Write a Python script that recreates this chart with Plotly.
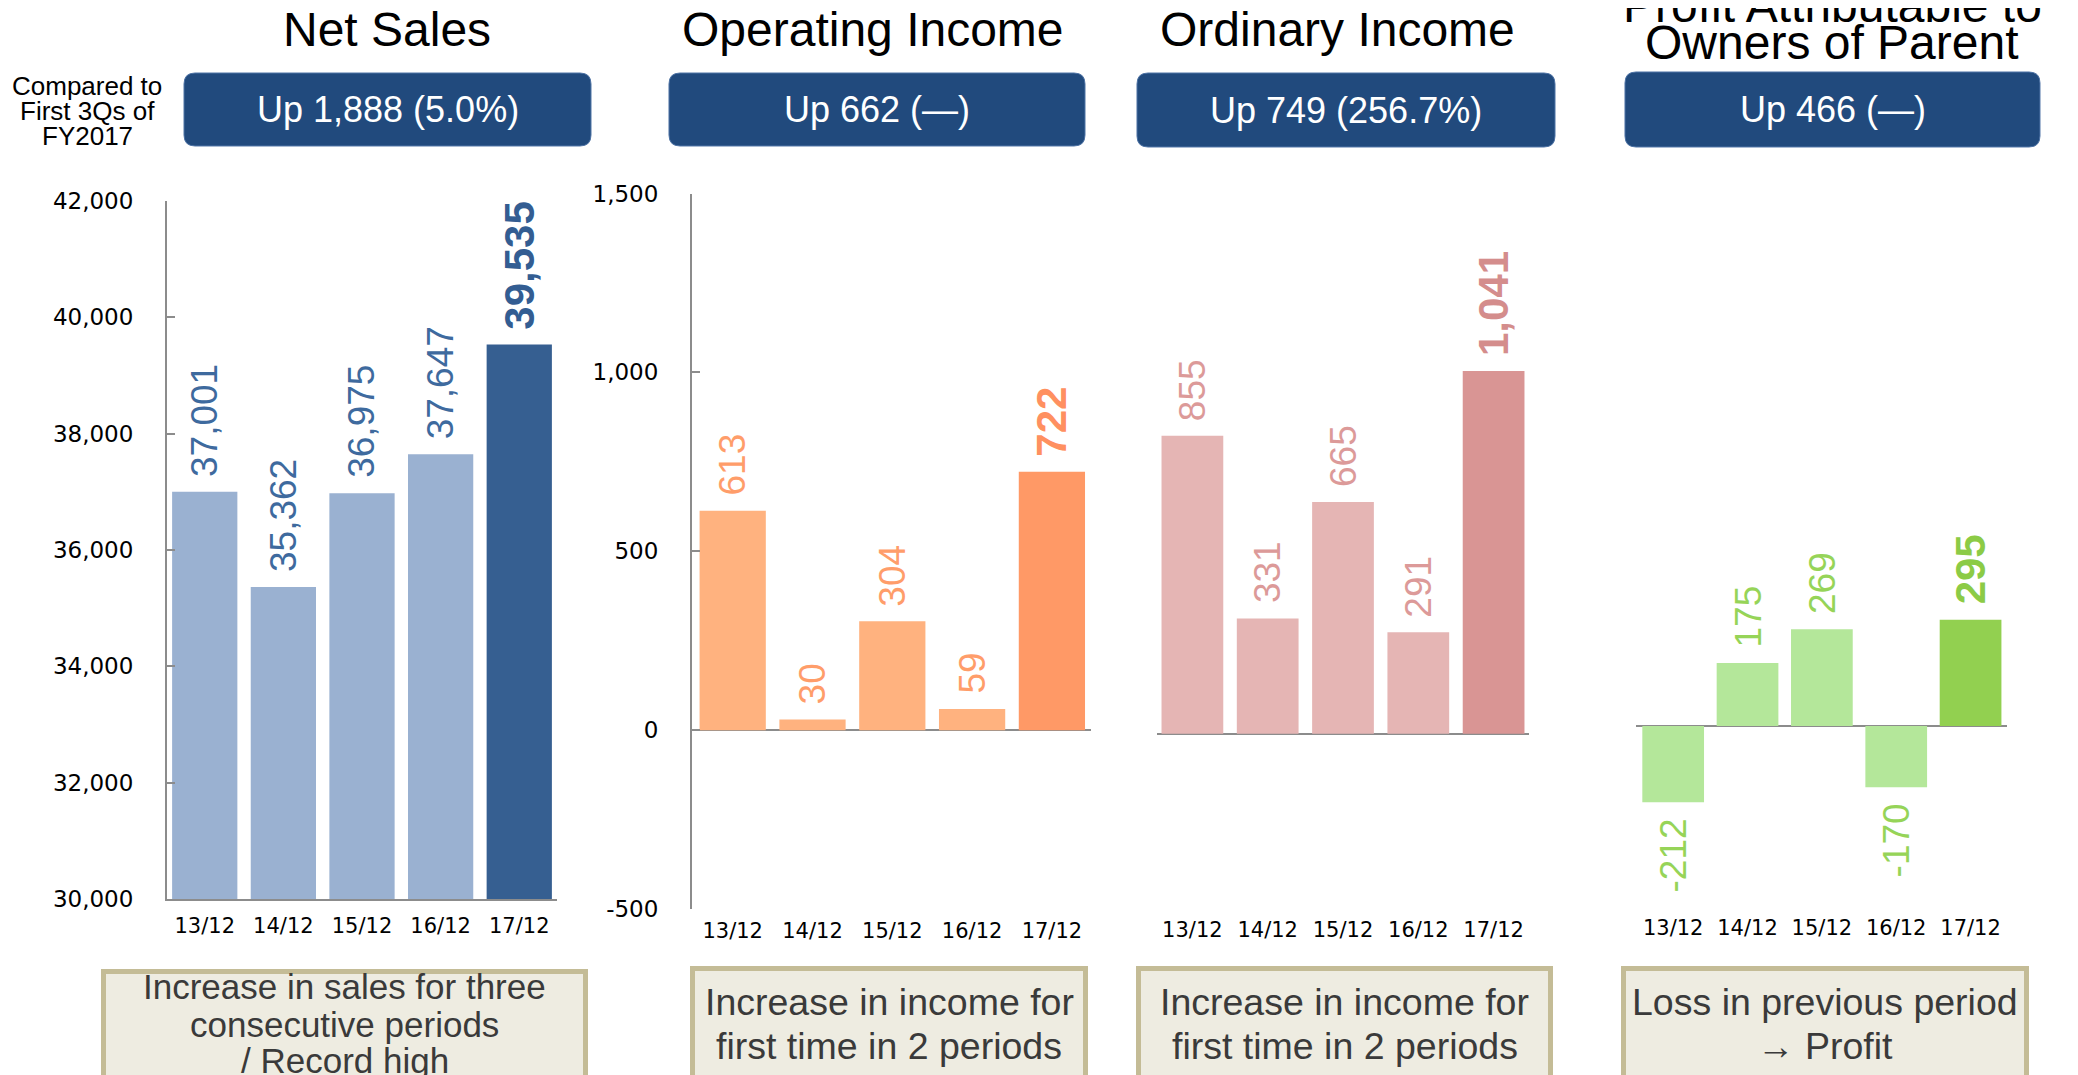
import plotly.graph_objects as go

W, H = 2078, 1075

# ---------------- data ----------------
periods = ["13/12", "14/12", "15/12", "16/12", "17/12"]
net_sales = [37001, 35362, 36975, 37647, 39535]
operating_income = [613, 30, 304, 59, 722]
ordinary_income = [855, 331, 665, 291, 1041]
profit_owners = [-212, 175, 269, -170, 295]

titles = [["Net Sales"], ["Operating Income"], ["Ordinary Income"],
          ["Profit Attributable to", "Owners of Parent"]]
changes = ["Up 1,888 (5.0%)", "Up 662 (—)", "Up 749 (256.7%)", "Up 466 (—)"]
notes = [["Increase in sales for three", "consecutive periods", "/ Record high"],
         ["Increase in income for", "first time in 2 periods"],
         ["Increase in income for", "first time in 2 periods"],
         ["Loss in previous period", "→ Profit"]]
compare_lines = ["Compared to", "First 3Qs of", "FY2017"]

sales_tickvals = [30000, 32000, 34000, 36000, 38000, 40000, 42000]
sales_ticktext = ["30,000", "32,000", "34,000", "36,000", "38,000", "40,000", "42,000"]
income_tickvals = [-500, 0, 500, 1000, 1500]
income_ticktext = ["-500", "0", "500", "1,000", "1,500"]

# ---------------- styling / geometry ----------------
ARIAL = "Liberation Sans, Arial, sans-serif"
TICKF = "DejaVu Sans, Verdana, sans-serif"
GRAY = "#8c8c8c"
OFF = 8  # page body margin


def px(x):
    return (x - OFF) / W


def py(y):
    return 1 - (y - OFF) / H


panels = [
    dict(values=net_sales, xpx=(167, 557), ypx=(201, 899), xr=(-0.48, 4.48), yr=(30000, 42000),
         width=0.83, light="#9ab1d1", dark="#365f91", lab="#3e6a9e", labdark="#335d92",
         yshow=True, xline=True, zl=False, tv=sales_tickvals, tt=sales_ticktext),
    dict(values=operating_income, xpx=(692, 1091), ypx=(193.5, 909), xr=(-0.51, 4.49), yr=(-500, 1500),
         width=0.83, light="#ffb27f", dark="#ff9966", lab="#ff9d6a", labdark="#ff9060",
         yshow=True, xline=False, zl=True, tv=income_tickvals, tt=income_ticktext),
    dict(values=ordinary_income, xpx=(1157, 1529), ypx=(211, 908), xr=(-0.47, 4.47), yr=(-500, 1500),
         width=0.82, light="#e5b5b4", dark="#d99594", lab="#dc9a99", labdark="#d48d8c",
         yshow=False, xline=False, zl=True, tv=income_tickvals, tt=income_ticktext),
    dict(values=profit_owners, xpx=(1636, 2007), ypx=(186, 906), xr=(-0.5, 4.49), yr=(-500, 1500),
         width=0.83, light="#b4e79a", dark="#92d050", lab="#96d458", labdark="#8ccb46",
         yshow=False, xline=False, zl=True, tv=income_tickvals, tt=income_ticktext),
]

fig = go.Figure()
annotations = []
shapes = []

for k, p in enumerate(panels, start=1):
    sfx = "" if k == 1 else str(k)
    vals = p["values"]
    colors = [p["light"]] * (len(vals) - 1) + [p["dark"]]
    fig.add_trace(go.Bar(
        x=periods, y=vals, width=p["width"], marker=dict(color=colors, line=dict(width=0)),
        xaxis="x" + sfx, yaxis="y" + sfx, showlegend=False, hoverinfo="x+y",
    ))
    fig.update_layout(**{
        "xaxis" + sfx: dict(
            domain=[px(p["xpx"][0]), px(p["xpx"][1])], anchor="y" + sfx, type="category",
            range=list(p["xr"]), showgrid=False, zeroline=False, ticks="",
            showline=p["xline"], linecolor=GRAY, linewidth=2,
            tickfont=dict(family=TICKF, size=21, color="#000000"), ticklabelstandoff=7,
            fixedrange=True, automargin=False,
        ),
        "yaxis" + sfx: dict(
            domain=[py(p["ypx"][1]), py(p["ypx"][0])], anchor="x" + sfx,
            range=list(p["yr"]), showgrid=False,
            zeroline=p["zl"], zerolinecolor=GRAY, zerolinewidth=2,
            showline=p["yshow"], linecolor=GRAY, linewidth=2,
            ticks="inside" if p["yshow"] else "", ticklen=8, tickcolor=GRAY, tickwidth=2,
            tickvals=p["tv"], ticktext=p["tt"], showticklabels=p["yshow"],
            tickfont=dict(family=TICKF, size=23, color="#000000"), ticklabelstandoff=27,
            fixedrange=True, automargin=False,
        ),
    })
    # value labels
    for i, v in enumerate(vals):
        last = i == len(vals) - 1
        annotations.append(dict(
            xref="x" + sfx, yref="y" + sfx, x=periods[i], y=v, text=f"{v:,}",
            textangle=-90, showarrow=False, xanchor="center",
            yanchor="bottom" if v >= 0 else "top", yshift=13 if v >= 0 else -14,
            font=dict(family=ARIAL, size=42 if last else 37,
                      color=p["labdark"] if last else p["lab"],
                      weight="bold" if last else "normal"),
        ))


def rounded(x0, y0, x1, y1, r):
    pts = [("M", x0 + r, y0), ("L", x1 - r, y0), ("Q", x1, y0, x1, y0 + r),
           ("L", x1, y1 - r), ("Q", x1, y1, x1 - r, y1), ("L", x0 + r, y1),
           ("Q", x0, y1, x0, y1 - r), ("L", x0, y0 + r), ("Q", x0, y0, x0 + r, y0)]
    out = []
    for seg in pts:
        s = seg[0]
        coords = seg[1:]
        for j in range(0, len(coords), 2):
            s += f" {px(coords[j]):.5f},{py(coords[j + 1]):.5f}"
        out.append(s)
    return " ".join(out) + " Z"


# header boxes
head_boxes = [(184, 73, 591, 146), (669, 73, 1085, 146), (1137, 73, 1555, 147), (1625, 72, 2040, 147)]
title_x = [387, 873, 1337, 1832]
for b, txt in zip(head_boxes, changes):
    shapes.append(dict(type="path", xref="paper", yref="paper", path=rounded(*b, 11),
                       fillcolor="#214a7d", line=dict(color="#4f74a6", width=1), layer="below"))
    annotations.append(dict(xref="paper", yref="paper", x=px((b[0] + b[2]) / 2), y=py((b[1] + b[3]) / 2),
                            text=txt, showarrow=False, xanchor="center", yanchor="middle",
                            font=dict(family=ARIAL, size=36, color="#ffffff")))

# titles
for k, lines in enumerate(titles):
    ys = [29] if len(lines) == 1 else [5, 42]
    for line, yc in zip(lines, ys):
        annotations.append(dict(xref="paper", yref="paper", x=px(title_x[k]), y=py(yc), text=line,
                                showarrow=False, xanchor="center", yanchor="middle",
                                font=dict(family=ARIAL, size=48, color="#000000")))

# "Compared to" label
for line, yc in zip(compare_lines, [86, 111, 136]):
    annotations.append(dict(xref="paper", yref="paper", x=px(87), y=py(yc), text=line,
                            showarrow=False, xanchor="center", yanchor="middle",
                            font=dict(family=ARIAL, size=26, color="#000000")))

# bottom note boxes
note_boxes = [(101, 969, 588), (690, 966, 1088), (1136, 966, 1553), (1621, 966, 2029)]
note_ys = [[986, 1024, 1060], [1002, 1046], [1002, 1046], [1002, 1046]]
note_size = [35, 37.5, 37.5, 37.5]
for (x0, y0, x1), lines, ys, fs in zip(note_boxes, notes, note_ys, note_size):
    shapes.append(dict(type="rect", xref="paper", yref="paper",
                       x0=px(x0 + 2.5), x1=px(x1 - 2.5), y0=py(H + 30), y1=py(y0 + 2.5),
                       fillcolor="#eeece1", line=dict(color="#c4bc96", width=5), layer="below"))
    for line, yc in zip(lines, ys):
        annotations.append(dict(xref="paper", yref="paper", x=px((x0 + x1) / 2), y=py(yc), text=line,
                                showarrow=False, xanchor="center", yanchor="middle",
                                font=dict(family=ARIAL, size=fs, color="#3a3a3a")))

fig.update_layout(
    width=W, height=H, autosize=False,
    margin=dict(l=0, r=0, t=0, b=0, pad=0, autoexpand=False),
    paper_bgcolor="#ffffff", plot_bgcolor="rgba(0,0,0,0)",
    annotations=annotations, shapes=shapes,
    bargap=0.17, showlegend=False,
)

fig.write_html("out.html")
